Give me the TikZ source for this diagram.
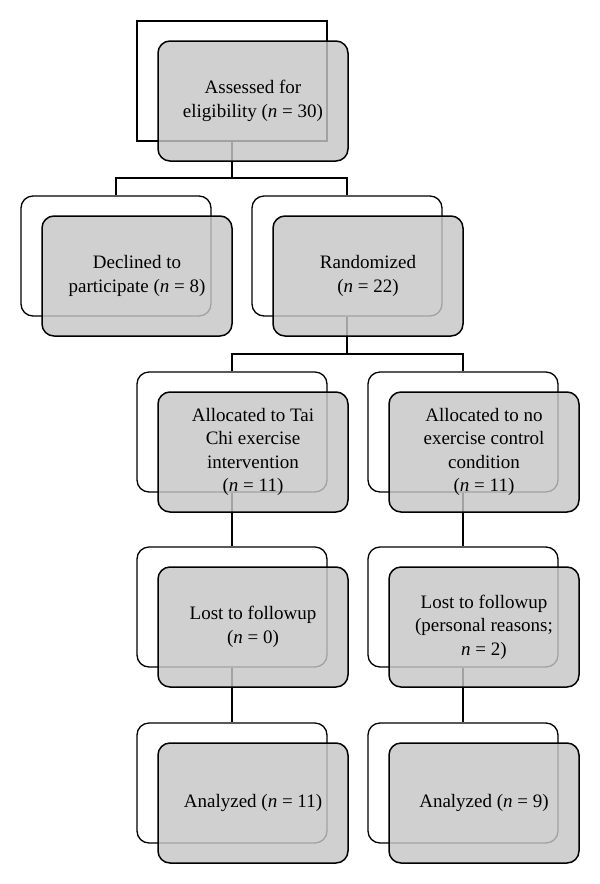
\documentclass[tikz,border=0pt]{standalone}
\usepackage{fontspec}
\setmainfont{Liberation Serif}
\begin{document}
\begin{tikzpicture}[x=1pt,y=-1pt,
  backbox/.style={draw=black, line width=1.3pt, rounded corners=12pt, minimum width=190pt, minimum height=120pt, inner sep=0pt},
  frontbox/.style={draw=black, line width=1.5pt, rounded corners=12pt, minimum width=190pt, minimum height=120pt, inner sep=0pt,
     fill={rgb,255:red,198;green,198;blue,198}, fill opacity=0.82, text opacity=1, align=center,
     font=\fontsize{19}{23.5}\selectfont},
  link/.style={draw=black, line width=1.3pt}]
\useasboundingbox (0,0) rectangle (600,884);
% back boxes
\node[backbox, rounded corners=0pt] (b1) at (232,81) {};
\node[backbox] (b2) at (116,256) {};
\node[backbox] (b3) at (347,256) {};
\node[backbox] (b4) at (232,432) {};
\node[backbox] (b5) at (463,432) {};
\node[backbox] (b6) at (232,607) {};
\node[backbox] (b7) at (463,607) {};
\node[backbox] (b8) at (232,783) {};
\node[backbox] (b9) at (463,783) {};
% connectors
\coordinate (j1) at (232,178);
\coordinate (j2) at (347,354);
\draw[link] (b1.south) -- (j1);
\draw[link] (b2.north) |- (j1) -| (b3.north);
\draw[link] (b3.south) -- (j2);
\draw[link] (b4.north) |- (j2) -| (b5.north);
\draw[link] (b4.south) -- (b6.north);
\draw[link] (b5.south) -- (b7.north);
\draw[link] (b6.south) -- (b8.north);
\draw[link] (b7.south) -- (b9.north);
% front boxes
\node[frontbox] (f1) at (253,101) {Assessed for\\eligibility (\textit{n} = 30)};
\node[frontbox] (f2) at (137,276) {Declined to\\participate (\textit{n} = 8)};
\node[frontbox] (f3) at (368,276) {Randomized\\(\textit{n} = 22)};
\node[frontbox] (f4) at (253,452) {Allocated to Tai\\Chi exercise\\intervention\\(\textit{n} = 11)};
\node[frontbox] (f5) at (484,452) {Allocated to no\\exercise control\\condition\\(\textit{n} = 11)};
\node[frontbox] (f6) at (253,627) {Lost to followup\\(\textit{n} = 0)};
\node[frontbox] (f7) at (484,627) {Lost to followup\\(personal reasons;\\\textit{n} = 2)};
\node[frontbox] (f8) at (253,803) {Analyzed (\textit{n} = 11)};
\node[frontbox] (f9) at (484,803) {Analyzed (\textit{n} = 9)};
\end{tikzpicture}
\end{document}
